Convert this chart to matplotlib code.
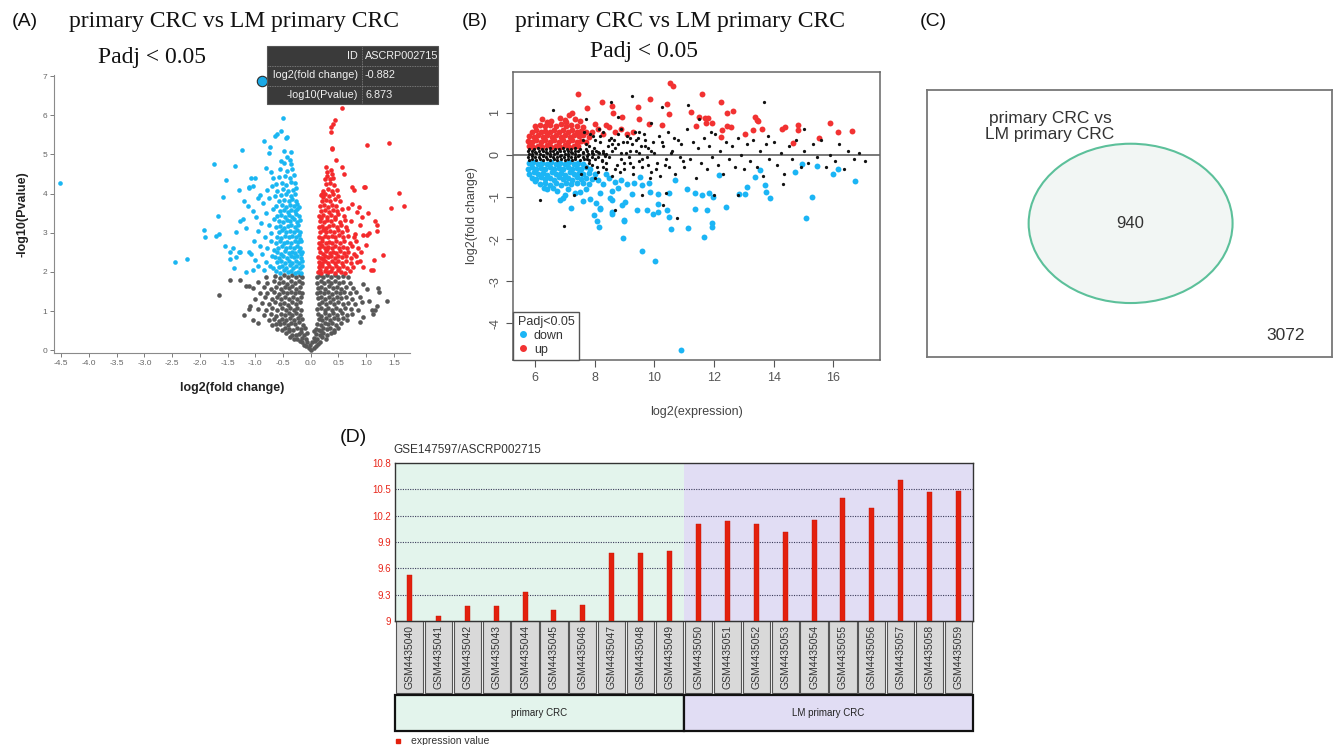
import matplotlib
matplotlib.use("Agg")
import matplotlib.pyplot as plt
from matplotlib.patches import Rectangle, Ellipse
from matplotlib.lines import Line2D
import matplotlib.transforms as mtransforms

plt.rcParams["axes.unicode_minus"] = False

# ---------------- DATA ----------------
# (A) volcano plot: (log2 fold change, -log10 Pvalue)
volcano_down = [
    (-4.53, 4.28), (-2.45, 2.26), (-2.24, 2.32), (-1.93, 3.06), (-1.90, 2.90), (-1.74, 4.76), (-1.68, 3.44),
    (-1.71, 2.92), (-1.65, 2.96), (-1.58, 3.92), (-1.52, 4.36), (-1.37, 4.70), (-1.24, 5.12), (-1.30, 4.10),
    (-1.21, 3.82), (-1.14, 3.68), (-1.22, 3.36), (-1.28, 3.31), (-1.17, 3.11), (-1.34, 3.01), (-1.54, 2.67),
    (-1.40, 2.60), (-1.46, 2.50), (-1.30, 2.52), (-1.27, 2.50), (-1.34, 2.39), (-1.45, 2.32), (-1.39, 2.09),
    (-1.16, 2.00), (-1.12, 2.52), (-1.11, 4.16), (-0.50, 5.92), (-0.84, 5.34), (-0.73, 5.18), (-0.65, 5.46),
    (-0.61, 5.52), (-0.53, 5.59), (-0.45, 5.43), (-0.42, 5.45), (-0.75, 5.03), (-0.49, 5.10), (-0.54, 4.83),
    (-0.43, 4.93), (-0.38, 4.86), (-0.35, 5.07), (-0.80, 4.65), (-1.07, 4.41), (-1.01, 4.41), (-1.12, 4.15),
    (-1.04, 4.19), (-0.91, 3.97), (-0.72, 4.56),
    (-1.05, 3.55), (-0.98, 3.40), (-0.95, 3.05), (-1.02, 2.80), (-0.92, 2.65), (-0.88, 2.45), (-1.00, 2.30),
    (-0.95, 2.15), (-0.85, 2.05), (-0.80, 2.25), (-0.78, 2.60), (-0.83, 2.90), (-0.76, 3.20), (-0.80, 3.50),
    (-0.86, 3.75), (-0.75, 3.90), (-0.70, 4.20), (-0.68, 4.40), (-0.78, 4.10), (-0.95, 3.90), (-1.08, 2.45),
    (-1.05, 2.05), (-0.90, 3.25), (-0.72, 2.80), (-0.70, 2.40), (-0.74, 2.15), (-0.68, 3.60), (-0.71, 3.00),
    (-0.62, 2.02), (-0.55, 1.98), (-0.48, 2.05), (-0.41, 1.99), (-0.35, 2.03), (-0.29, 1.97), (-0.23, 2.01),
    (-0.17, 1.98), (-0.58, 2.12), (-0.51, 2.15), (-0.44, 2.10), (-0.38, 2.17), (-0.32, 2.11), (-0.26, 2.14),
    (-0.20, 2.09), (-0.15, 2.16), (-0.60, 2.25), (-0.53, 2.28), (-0.46, 2.22), (-0.39, 2.27), (-0.33, 2.24),
    (-0.27, 2.29), (-0.21, 2.23), (-0.16, 2.27),
    (-0.64, 2.38), (-0.57, 2.35), (-0.50, 2.40), (-0.43, 2.36), (-0.36, 2.41), (-0.30, 2.37), (-0.24, 2.42),
    (-0.18, 2.35), (-0.61, 2.50), (-0.54, 2.47), (-0.47, 2.53), (-0.40, 2.49), (-0.34, 2.52), (-0.28, 2.48),
    (-0.22, 2.54), (-0.16, 2.50), (-0.59, 2.62), (-0.52, 2.65), (-0.45, 2.60), (-0.38, 2.64), (-0.31, 2.61),
    (-0.25, 2.66), (-0.19, 2.62),
    (-0.63, 2.75), (-0.56, 2.78), (-0.49, 2.73), (-0.42, 2.77), (-0.35, 2.74), (-0.29, 2.79), (-0.23, 2.76),
    (-0.17, 2.80), (-0.60, 2.90), (-0.53, 2.87), (-0.46, 2.92), (-0.39, 2.88), (-0.33, 2.93), (-0.27, 2.89),
    (-0.21, 2.94), (-0.58, 3.03), (-0.51, 3.06), (-0.44, 3.01), (-0.37, 3.05), (-0.31, 3.02), (-0.25, 3.07),
    (-0.19, 3.03),
    (-0.62, 3.15), (-0.55, 3.18), (-0.48, 3.13), (-0.41, 3.17), (-0.35, 3.20), (-0.29, 3.14), (-0.23, 3.19),
    (-0.57, 3.30), (-0.50, 3.27), (-0.43, 3.33), (-0.37, 3.29), (-0.31, 3.34), (-0.25, 3.28), (-0.20, 3.32),
    (-0.60, 3.43), (-0.53, 3.46), (-0.46, 3.41), (-0.39, 3.45), (-0.33, 3.40), (-0.27, 3.47), (-0.22, 3.42),
    (-0.55, 3.56), (-0.48, 3.58), (-0.41, 3.54), (-0.35, 3.59), (-0.29, 3.55), (-0.24, 3.60),
    (-0.62, 3.68), (-0.52, 3.70), (-0.44, 3.66), (-0.37, 3.72), (-0.30, 3.68), (-0.25, 3.74), (-0.58, 3.82),
    (-0.49, 3.85), (-0.40, 3.80), (-0.33, 3.86), (-0.27, 3.82), (-0.54, 3.96), (-0.45, 3.98), (-0.36, 3.93),
    (-0.29, 3.99), (-0.60, 4.08), (-0.50, 4.12), (-0.41, 4.06), (-0.32, 4.10), (-0.26, 4.14),
    (-0.63, 4.25), (-0.52, 4.28), (-0.44, 4.22), (-0.35, 4.30), (-0.28, 4.26), (-0.57, 4.42), (-0.47, 4.45),
    (-0.38, 4.40), (-0.30, 4.47), (-0.55, 4.62), (-0.42, 4.58), (-0.33, 4.64), (-0.48, 4.78), (-0.36, 4.75),
    (-0.66, 2.55), (-0.66, 3.35), (-0.64, 3.95), (-0.20, 2.85), (-0.18, 2.45), (-0.22, 3.65), (-0.68, 2.10),
]
volcano_up = [
    (0.13, 2.00), (0.19, 1.97), (0.25, 2.03), (0.31, 1.99), (0.37, 2.02), (0.43, 1.98), (0.49, 2.04),
    (0.55, 2.00), (0.62, 1.98), (0.70, 2.03), (0.15, 2.12), (0.21, 2.15), (0.27, 2.10), (0.33, 2.16),
    (0.39, 2.11), (0.45, 2.14), (0.51, 2.09), (0.58, 2.15), (0.66, 2.11), (0.76, 2.13), (0.14, 2.26),
    (0.20, 2.23), (0.26, 2.28), (0.32, 2.24), (0.38, 2.27), (0.44, 2.22), (0.50, 2.28), (0.57, 2.24),
    (0.64, 2.27), (0.73, 2.22), (0.84, 2.26),
    (0.13, 2.38), (0.19, 2.35), (0.25, 2.41), (0.31, 2.37), (0.37, 2.40), (0.43, 2.36), (0.49, 2.41),
    (0.56, 2.37), (0.63, 2.40), (0.72, 2.36), (0.82, 2.42), (0.16, 2.50), (0.22, 2.47), (0.28, 2.53),
    (0.34, 2.49), (0.40, 2.52), (0.46, 2.48), (0.53, 2.54), (0.60, 2.49), (0.68, 2.52), (0.78, 2.47),
    (0.90, 2.50), (0.14, 2.62), (0.20, 2.65), (0.26, 2.60), (0.32, 2.64), (0.38, 2.61), (0.44, 2.66),
    (0.51, 2.60), (0.58, 2.64), (0.66, 2.61), (0.75, 2.66), (0.86, 2.62),
    (0.15, 2.75), (0.21, 2.78), (0.27, 2.73), (0.33, 2.77), (0.39, 2.74), (0.45, 2.79), (0.52, 2.75),
    (0.60, 2.78), (0.70, 2.74), (0.82, 2.79), (0.14, 2.90), (0.20, 2.87), (0.26, 2.92), (0.32, 2.88),
    (0.38, 2.93), (0.44, 2.89), (0.51, 2.94), (0.58, 2.88), (0.67, 2.92), (0.78, 2.88), (0.16, 3.03),
    (0.22, 3.06), (0.28, 3.01), (0.35, 3.05), (0.42, 3.02), (0.49, 3.07), (0.57, 3.03), (0.66, 3.06),
    (0.14, 3.15), (0.20, 3.18), (0.27, 3.13), (0.33, 3.17), (0.40, 3.20), (0.47, 3.14), (0.55, 3.19),
    (0.64, 3.15), (0.17, 3.30), (0.24, 3.27), (0.30, 3.33), (0.37, 3.29), (0.44, 3.34), (0.52, 3.28),
    (0.61, 3.32), (0.72, 3.30), (0.15, 3.43), (0.22, 3.46), (0.29, 3.41), (0.36, 3.45), (0.43, 3.40),
    (0.50, 3.47), (0.60, 3.42), (0.19, 3.56), (0.26, 3.58), (0.33, 3.54), (0.40, 3.59), (0.47, 3.55),
    (0.56, 3.60),
    (0.16, 3.68), (0.24, 3.70), (0.31, 3.66), (0.38, 3.72), (0.46, 3.68), (0.20, 3.82), (0.28, 3.85),
    (0.35, 3.80), (0.43, 3.86), (0.53, 3.82), (0.18, 3.96), (0.26, 3.98), (0.33, 3.93), (0.41, 3.99),
    (0.50, 3.95), (0.23, 4.08), (0.31, 4.12), (0.38, 4.06), (0.47, 4.10), (0.27, 4.25), (0.35, 4.28),
    (0.42, 4.22), (0.30, 4.45), (0.38, 4.50),
    (0.57, 6.19), (0.43, 5.89), (0.40, 5.78), (0.36, 5.70), (0.36, 5.58), (0.38, 5.16), (0.39, 5.13),
    (1.02, 5.24), (1.41, 5.30), (0.45, 4.86), (0.56, 4.67), (0.27, 4.67), (0.30, 4.56), (0.36, 4.60),
    (0.40, 4.41), (0.34, 4.37), (0.25, 4.38), (0.74, 4.16), (0.78, 4.09), (0.96, 4.17), (1.60, 4.01),
    (1.69, 3.68), (1.44, 3.64), (0.20, 4.00), (0.22, 3.92), (0.67, 3.63), (0.75, 3.74), (0.87, 3.66),
    (0.84, 3.52), (1.04, 3.51), (1.20, 3.21), (1.19, 3.05), (1.01, 2.95), (0.95, 2.95), (0.80, 2.98),
    (1.31, 2.43), (1.12, 2.05), (0.95, 2.12), (0.89, 2.29), (0.98, 4.17), (1.14, 2.30), (1.08, 2.06),
    (1.16, 3.30), (0.92, 3.40), (1.00, 2.70), (0.88, 3.20), (1.05, 3.00), (0.60, 4.50),
    (0.17, 2.05), (0.23, 2.32), (0.18, 2.70), (0.24, 3.10), (0.19, 3.37), (0.17, 2.18), (0.29, 2.58),
]
volcano_ns = [
    (0.00, 0.01), (-0.04, 0.05), (0.05, 0.06), (-0.08, 0.10), (0.09, 0.11), (-0.12, 0.14), (0.13, 0.16),
    (-0.02, 0.13), (0.03, 0.20), (-0.16, 0.20), (0.17, 0.22), (-0.07, 0.22), (0.08, 0.24), (-0.20, 0.24),
    (-0.30, 0.28), (-0.24, 0.30), (-0.15, 0.32), (-0.09, 0.30), (0.06, 0.31), (0.12, 0.29), (0.20, 0.33),
    (0.27, 0.30), (-0.38, 0.35), (-0.33, 0.40), (-0.27, 0.38), (-0.21, 0.42), (-0.13, 0.40), (0.10, 0.41),
    (0.16, 0.38), (0.23, 0.43), (0.30, 0.39), (0.36, 0.44), (-0.45, 0.45), (-0.40, 0.48), (-0.18, 0.47),
    (-0.06, 0.45), (0.05, 0.48), (0.19, 0.49), (0.42, 0.47),
    (-0.60, 0.55), (-0.52, 0.52), (-0.46, 0.58), (-0.39, 0.55), (-0.32, 0.53), (-0.25, 0.57), (-0.18, 0.54),
    (-0.10, 0.58), (0.09, 0.55), (0.15, 0.52), (0.22, 0.58), (0.29, 0.54), (0.35, 0.57), (0.42, 0.53),
    (0.50, 0.58), (-0.70, 0.65), (-0.63, 0.68), (-0.55, 0.66), (-0.48, 0.70), (-0.41, 0.64), (-0.35, 0.69),
    (-0.28, 0.66), (-0.21, 0.71), (-0.14, 0.65), (0.12, 0.68), (0.18, 0.64), (0.25, 0.70), (0.32, 0.66),
    (0.39, 0.69), (0.46, 0.65), (0.55, 0.70), (-0.75, 0.78), (-0.66, 0.80), (-0.58, 0.76), (-0.51, 0.81),
    (-0.44, 0.77), (-0.37, 0.82), (-0.30, 0.78), (-0.23, 0.83), (-0.16, 0.79), (0.14, 0.80), (0.21, 0.77),
    (0.28, 0.82), (0.35, 0.78), (0.42, 0.83), (0.50, 0.79), (0.58, 0.82), (0.65, 0.77), (-0.85, 0.90),
    (-0.72, 0.92), (-0.62, 0.88), (-0.54, 0.93), (-0.47, 0.89), (-0.40, 0.95), (-0.33, 0.91), (-0.26, 0.96),
    (-0.19, 0.90), (0.13, 0.92), (0.19, 0.88), (0.26, 0.94), (0.33, 0.90), (0.40, 0.95), (0.48, 0.91),
    (0.56, 0.95), (0.66, 0.90), (0.75, 0.93),
    (-1.10, 1.12), (-0.95, 1.05), (-0.80, 1.02), (-0.70, 1.08), (-0.60, 1.03), (-0.52, 1.07), (-0.45, 1.02),
    (-0.38, 1.08), (-0.31, 1.04), (-0.24, 1.09), (-0.17, 1.03), (0.12, 1.05), (0.18, 1.09), (0.25, 1.03),
    (0.31, 1.08), (0.38, 1.02), (0.45, 1.07), (0.53, 1.03), (0.62, 1.08), (0.72, 1.05), (0.85, 1.03),
    (1.10, 1.02), (-0.88, 1.20), (-0.75, 1.18), (-0.65, 1.22), (-0.56, 1.17), (-0.48, 1.21), (-0.41, 1.16),
    (-0.34, 1.22), (-0.27, 1.18), (-0.20, 1.23), (0.14, 1.19), (0.21, 1.22), (0.28, 1.17), (0.35, 1.23),
    (0.42, 1.18), (0.50, 1.22), (0.58, 1.17), (0.68, 1.21), (0.80, 1.18), (0.93, 1.24), (-1.00, 1.32),
    (-0.82, 1.35), (-0.70, 1.31), (-0.61, 1.36), (-0.53, 1.32), (-0.46, 1.37), (-0.39, 1.31), (-0.32, 1.36),
    (-0.25, 1.32), (-0.18, 1.37), (0.13, 1.33), (0.19, 1.37), (0.26, 1.31), (0.33, 1.36), (0.40, 1.32),
    (0.47, 1.37), (0.55, 1.33), (0.64, 1.36), (0.74, 1.31), (0.88, 1.35), (-0.92, 1.47), (-0.78, 1.45),
    (-0.66, 1.48), (-0.57, 1.44), (-0.50, 1.49), (-0.43, 1.45), (-0.36, 1.50), (-0.29, 1.46), (-0.22, 1.49),
    (-0.16, 1.45), (0.12, 1.46), (0.17, 1.50), (0.24, 1.45), (0.31, 1.49), (0.38, 1.44), (0.45, 1.48),
    (0.52, 1.45), (0.60, 1.49), (0.70, 1.46), (0.82, 1.49),
    (-1.05, 1.58), (-0.85, 1.62), (-0.72, 1.57), (-0.62, 1.61), (-0.54, 1.56), (-0.47, 1.62), (-0.40, 1.58),
    (-0.33, 1.63), (-0.26, 1.57), (-0.19, 1.62), (0.13, 1.58), (0.19, 1.62), (0.26, 1.57), (0.33, 1.63),
    (0.40, 1.58), (0.47, 1.62), (0.55, 1.57), (0.64, 1.61), (0.76, 1.58), (-0.95, 1.74), (-0.78, 1.72),
    (-0.67, 1.76), (-0.58, 1.71), (-0.50, 1.75), (-0.43, 1.70), (-0.36, 1.76), (-0.29, 1.72), (-0.22, 1.77),
    (-0.16, 1.71), (0.12, 1.73), (0.18, 1.77), (0.24, 1.71), (0.31, 1.76), (0.37, 1.72), (0.44, 1.77),
    (0.51, 1.71), (0.59, 1.75), (0.70, 1.72), (-0.80, 1.87), (-0.65, 1.90), (-0.56, 1.85), (-0.48, 1.91),
    (-0.41, 1.86), (-0.34, 1.92), (-0.27, 1.87), (-0.20, 1.91), (-0.15, 1.86), (0.12, 1.88), (0.17, 1.92),
    (0.23, 1.86), (0.29, 1.91), (0.36, 1.87), (0.43, 1.92), (0.50, 1.86), (0.58, 1.90), (0.68, 1.88),
    (-1.46, 1.80), (-1.28, 1.80), (-1.16, 1.65), (-1.12, 1.65), (-1.65, 1.42), (-1.12, 1.06), (-1.20, 0.90),
    (-1.05, 0.78), (-0.95, 0.70), (1.37, 1.26), (1.21, 1.60), (1.23, 1.50), (1.01, 1.56), (1.13, 0.92),
    (1.16, 1.03), (0.95, 0.85), (0.88, 0.72), (1.05, 1.25), (0.95, 1.70), (1.20, 1.12),
]
volcano_xticks = [-4.5, -4.0, -3.5, -3.0, -2.5, -2.0, -1.5, -1.0, -0.5, 0.0, 0.5, 1.0, 1.5]
volcano_xticklabels = ["-4.5", "-4.0", "-3.5", "-3.0", "-2.5", "-2.0", "-1.5", "-1.0", "-0.5", "0.0", "0.5", "1.0", "1.5"]
volcano_yticks = [0, 1, 2, 3, 4, 5, 6, 7]
hover_id = "ASCRP002715"
hover_fc = -0.882
hover_p = 6.873

# (B) MA plot: (log2 expression, log2 fold change)
ma_up = [
    (5.80, 0.20), (5.95, 0.18), (6.10, 0.21), (6.25, 0.19), (6.40, 0.22), (6.55, 0.18), (6.70, 0.21),
    (6.85, 0.19), (7.00, 0.22), (7.15, 0.18), (7.30, 0.21), (7.45, 0.20),
    (5.78, 0.33), (5.92, 0.30), (6.05, 0.34), (6.20, 0.31), (6.35, 0.35), (6.50, 0.30), (6.65, 0.34),
    (6.80, 0.31), (6.95, 0.35), (7.10, 0.30), (7.25, 0.34), (7.40, 0.31), (7.55, 0.33), (7.70, 0.30),
    (5.82, 0.45), (5.97, 0.42), (6.12, 0.46), (6.27, 0.43), (6.42, 0.47), (6.57, 0.42), (6.72, 0.46),
    (6.87, 0.43), (7.02, 0.47), (7.17, 0.42), (7.32, 0.46), (7.47, 0.44), (7.62, 0.46), (7.80, 0.43),
    (5.90, 0.55), (6.05, 0.58), (6.20, 0.54), (6.35, 0.57), (6.50, 0.55), (6.65, 0.59), (6.80, 0.54),
    (6.95, 0.58), (7.10, 0.55), (7.25, 0.59), (7.40, 0.54), (7.55, 0.57), (7.70, 0.55),
    (6.00, 0.68), (6.18, 0.70), (6.35, 0.67), (6.52, 0.71), (6.70, 0.68), (6.88, 0.72), (7.05, 0.67),
    (7.22, 0.70), (7.40, 0.68), (7.60, 0.66),
    (6.25, 0.84), (6.55, 0.80), (6.85, 0.88), (7.00, 0.82), (7.15, 0.95), (7.25, 0.98), (7.35, 0.85),
    (7.05, 0.78), (6.40, 0.78), (7.50, 0.80),
    (7.90, 0.55), (8.10, 0.62), (8.30, 0.50), (8.50, 0.65), (8.70, 0.55), (8.90, 0.60), (9.10, 0.50),
    (9.30, 0.55), (8.00, 0.72), (8.40, 0.70),
    (7.44, 1.44), (7.76, 1.10), (8.24, 1.25), (8.60, 1.15), (9.47, 1.14), (9.87, 1.33), (9.48, 0.84),
    (9.84, 0.74), (10.25, 0.71), (10.42, 1.21), (10.48, 0.96), (10.52, 1.71), (10.62, 1.63), (11.22, 1.02),
    (11.40, 0.67), (11.51, 0.89), (11.60, 1.45), (11.70, 0.87), (11.81, 0.88), (11.74, 0.75), (11.95, 0.75),
    (12.24, 1.24), (12.27, 0.59), (12.45, 1.00), (12.65, 1.04), (12.43, 0.68), (12.57, 0.66), (13.04, 0.49),
    (13.32, 0.59), (13.38, 0.90), (13.44, 0.83), (13.49, 0.79), (13.60, 0.60), (14.27, 0.60), (14.38, 0.65),
    (14.83, 0.71), (14.81, 0.59), (14.63, 0.29), (15.52, 0.39), (15.89, 0.76), (16.15, 0.55), (16.61, 0.57),
    (12.23, 0.41), (8.91, 0.90), (8.61, 0.98),
]
ma_down = [
    (5.80, -0.20), (5.95, -0.18), (6.10, -0.21), (6.25, -0.19), (6.40, -0.22), (6.55, -0.18), (6.70, -0.21),
    (6.85, -0.19), (7.00, -0.22), (7.15, -0.18), (7.30, -0.21), (7.45, -0.20), (7.60, -0.22),
    (5.78, -0.33), (5.92, -0.30), (6.05, -0.34), (6.20, -0.31), (6.35, -0.35), (6.50, -0.30), (6.65, -0.34),
    (6.80, -0.31), (6.95, -0.35), (7.10, -0.30), (7.25, -0.34), (7.40, -0.31), (7.55, -0.33), (7.70, -0.30),
    (7.85, -0.34),
    (5.82, -0.45), (5.97, -0.42), (6.12, -0.46), (6.27, -0.43), (6.42, -0.47), (6.57, -0.42), (6.72, -0.46),
    (6.87, -0.43), (7.02, -0.47), (7.17, -0.42), (7.32, -0.46), (7.47, -0.44), (7.62, -0.46), (7.80, -0.43),
    (8.00, -0.45),
    (5.90, -0.55), (6.05, -0.58), (6.20, -0.54), (6.35, -0.57), (6.50, -0.55), (6.65, -0.59), (6.80, -0.54),
    (6.95, -0.58), (7.10, -0.55), (7.25, -0.59), (7.40, -0.54), (7.55, -0.57), (7.70, -0.55), (7.90, -0.58),
    (6.01, -0.62), (6.18, -0.70), (6.35, -0.67), (6.52, -0.71), (6.70, -0.68), (6.88, -0.72), (7.05, -0.67),
    (7.22, -0.70), (7.40, -0.68), (7.60, -0.66), (7.80, -0.70),
    (6.40, -0.82), (6.60, -0.80), (6.75, -0.85), (6.96, -1.03), (6.85, -1.07), (7.20, -1.26), (7.10, -0.82),
    (7.35, -0.90), (7.60, -1.10), (7.85, -1.04), (8.05, -1.14), (8.20, -1.26), (7.99, -1.43), (8.08, -1.57),
    (8.16, -1.72), (8.52, -1.02), (8.58, -1.35), (8.99, -1.55), (9.02, -1.11), (7.50, -0.88), (7.00, -0.95),
    (6.30, -0.80), (7.70, -0.82),
    (8.10, -0.60), (8.30, -0.70), (8.50, -0.55), (8.70, -0.65), (8.90, -0.60), (9.10, -0.70), (8.20, -0.90),
    (8.60, -0.85), (8.40, -0.45), (8.80, -0.80),
    (9.58, -2.29), (10.04, -2.51), (10.90, -4.63), (8.97, -1.98), (9.00, -1.58), (8.19, -1.28), (8.58, -1.40),
    (8.58, -1.08), (8.91, -1.20), (9.42, -1.32), (9.75, -1.32), (9.97, -1.40), (10.14, -1.36), (10.14, -1.16),
    (10.44, -1.32), (10.50, -1.48), (10.55, -1.77), (11.13, -1.74), (11.68, -1.95), (11.94, -1.63),
    (11.95, -1.71), (11.38, -1.29), (11.76, -1.32), (12.40, -1.24), (11.96, -1.00), (12.16, -0.48),
    (11.85, -0.90), (11.60, -0.96), (11.37, -0.90), (11.09, -0.82), (10.70, -0.59), (10.48, -0.90),
    (10.14, -0.92), (9.86, -0.88), (9.83, -0.68), (9.53, -0.52), (9.58, -0.72), (9.31, -0.68), (9.25, -0.92),
    (12.85, -0.92), (13.05, -0.94), (13.12, -0.76), (13.38, -0.52), (13.55, -0.37), (13.71, -0.71),
    (13.73, -0.88), (13.88, -1.02), (14.72, -0.42), (14.94, -0.22), (15.27, -1.00), (15.09, -1.49),
    (15.44, -0.26), (15.97, -0.46), (16.17, -0.33), (16.73, -0.62),
]
ma_ns = [
    (5.80, -0.12), (5.92, -0.10), (6.04, -0.13), (6.16, -0.11), (6.28, -0.12), (6.40, -0.10), (6.52, -0.13),
    (6.64, -0.11), (6.76, -0.12), (6.88, -0.10), (7.00, -0.13), (7.12, -0.11), (7.24, -0.12), (7.36, -0.10),
    (7.50, -0.13), (7.65, -0.11), (7.80, -0.12), (8.00, -0.10), (8.25, -0.13),
    (5.78, -0.05), (5.90, -0.04), (6.02, -0.06), (6.14, -0.05), (6.26, -0.03), (6.38, -0.06), (6.50, -0.04),
    (6.62, -0.05), (6.74, -0.06), (6.86, -0.03), (6.98, -0.05), (7.10, -0.04), (7.22, -0.06), (7.34, -0.05),
    (7.46, -0.03), (7.60, -0.06), (7.75, -0.04), (7.90, -0.05), (8.10, -0.06), (8.35, -0.04),
    (5.80, 0.02), (5.92, 0.01), (6.04, 0.03), (6.16, 0.02), (6.28, 0.00), (6.40, 0.03), (6.52, 0.01),
    (6.64, 0.02), (6.76, 0.03), (6.88, 0.00), (7.00, 0.02), (7.12, 0.01), (7.24, 0.03), (7.36, 0.02),
    (7.48, 0.00), (7.62, 0.03), (7.78, 0.01), (7.95, 0.02), (8.15, 0.03), (8.40, 0.01),
    (5.78, 0.08), (5.90, 0.09), (6.02, 0.07), (6.14, 0.08), (6.26, 0.10), (6.38, 0.07), (6.50, 0.09),
    (6.62, 0.08), (6.74, 0.07), (6.86, 0.10), (6.98, 0.08), (7.10, 0.09), (7.22, 0.07), (7.34, 0.08),
    (7.46, 0.10), (7.60, 0.07), (7.75, 0.09), (7.90, 0.08), (8.10, 0.07), (8.30, 0.09),
    (5.82, 0.14), (5.96, 0.13), (6.10, 0.15), (6.24, 0.14), (6.38, 0.13), (6.52, 0.15), (6.66, 0.14),
    (6.80, 0.13), (6.94, 0.15), (7.08, 0.14), (7.22, 0.13), (7.36, 0.15), (7.52, 0.14), (7.70, 0.13),
    (7.6, 0.35), (7.7, -0.3), (7.8, 0.2), (7.9, -0.25), (7.95, 0.45), (8.05, 0.1), (8.1, -0.4), (8.2, 0.3),
    (8.25, -0.15), (8.3, 0.55), (8.4, -0.35), (8.45, 0.2), (8.5, -0.05), (8.55, 0.4), (8.6, -0.5),
    (8.7, 0.15), (8.75, -0.25), (8.8, 0.5), (8.9, -0.1), (8.95, 0.3), (9.0, -0.35), (9.05, 0.05),
    (9.1, 0.45), (9.2, -0.2), (9.25, 0.25), (9.3, -0.45), (9.4, 0.1), (9.45, 0.4), (9.5, -0.15),
    (9.55, 0.2), (9.6, -0.3), (9.7, 0.35), (9.75, -0.05), (9.8, 0.15), (9.9, -0.4), (9.95, 0.3),
    (10.0, 0.05), (10.1, -0.2), (10.15, 0.45), (10.2, -0.5), (10.3, 0.2), (10.4, -0.1), (10.45, 0.55),
    (10.5, -0.3), (10.6, 0.1), (10.7, -0.45), (10.8, 0.35), (10.85, -0.05), (10.9, 0.25), (11.0, -0.3),
    (11.1, 0.6), (11.2, -0.1), (11.3, 0.3), (11.4, -0.55), (11.45, 0.15), (11.55, -0.2), (11.65, 0.4),
    (11.75, -0.35), (11.85, 0.2), (11.95, -0.05), (12.05, 0.5), (12.15, -0.25), (12.2, 0.1), (12.3, -0.45),
    (12.4, 0.3), (12.5, -0.1), (12.6, 0.2), (12.7, -0.3), (12.8, 0.4), (12.9, 0.0), (13.0, -0.35),
    (13.1, 0.25), (13.2, -0.15), (13.3, 0.35), (13.45, -0.3), (13.55, 0.1), (13.65, -0.5), (13.75, 0.25),
    (13.85, -0.1), (14.0, 0.3), (14.1, -0.25), (14.25, 0.05), (14.35, -0.45), (14.5, 0.2), (14.6, -0.1),
    (14.75, 0.35), (14.9, -0.3), (15.0, 0.1), (15.15, -0.2), (15.3, 0.25), (15.45, -0.05), (15.6, 0.35),
    (15.75, -0.3), (15.9, 0.0), (16.05, -0.15), (16.2, 0.25), (16.35, -0.35), (16.5, 0.1), (16.7, -0.1),
    (16.85, 0.05), (17.06, -0.15),
    (7.55, -0.45), (7.65, 0.55), (7.75, -0.1), (7.85, 0.5), (7.9, 0.05), (8.0, -0.55), (8.15, 0.6),
    (8.35, 0.0), (8.65, 0.35), (8.85, -0.4), (9.15, -0.05), (9.35, 0.55), (9.65, 0.5), (9.85, -0.55),
    (8.0, 0.35), (8.3, -0.3), (8.6, 0.25), (8.9, 0.6), (9.2, 0.4), (9.5, 0.55),
    (7.72, 0.25), (7.82, -0.2), (7.98, 0.15), (8.08, -0.3), (8.18, 0.45), (8.28, 0.05), (8.38, -0.2),
    (8.48, 0.35), (8.58, 0.1), (8.68, -0.35), (8.78, 0.25), (8.88, 0.05), (8.98, -0.2), (9.08, 0.3),
    (9.18, 0.1), (9.28, -0.3), (9.38, 0.35), (9.48, 0.05), (9.58, -0.1), (9.68, 0.2), (9.78, -0.25),
    (9.88, 0.1), (10.05, -0.35), (10.25, 0.3), (10.35, -0.25), (10.55, 0.05), (10.65, 0.4), (10.95, -0.15),
    (9.25, 1.40), (13.66, 1.26), (8.56, 1.24), (6.60, 1.06), (6.98, -1.70), (6.18, -1.08), (10.75, -1.49),
    (10.25, 1.13), (11.14, 1.18), (8.7, -1.3), (9.6, -0.95), (10.4, -0.9), (11.5, 0.85), (12.0, -0.95),
    (12.8, -0.95), (7.3, -0.95), (7.7, 0.85), (8.8, 0.9), (9.9, 0.75), (11.9, 0.55), (13.8, 0.45),
    (15.0, 0.6), (14.3, -0.7), (10.3, -1.2),
]
ma_xticks = [6, 8, 10, 12, 14, 16]
ma_yticks = [-4, -3, -2, -1, 0, 1]

# (C) Venn
venn_label = "primary CRC vs\nLM primary CRC"
venn_inside = 940
venn_outside = 3072

# (D) expression bars
dataset_title = "GSE147597/ASCRP002715"
samples = ["GSM4435040", "GSM4435041", "GSM4435042", "GSM4435043", "GSM4435044",
           "GSM4435045", "GSM4435046", "GSM4435047", "GSM4435048", "GSM4435049",
           "GSM4435050", "GSM4435051", "GSM4435052", "GSM4435053", "GSM4435054",
           "GSM4435055", "GSM4435056", "GSM4435057", "GSM4435058", "GSM4435059"]
expression = [9.52, 9.06, 9.17, 9.17, 9.33, 9.13, 9.18, 9.78, 9.78, 9.80,
              10.11, 10.14, 10.10, 10.01, 10.15, 10.40, 10.29, 10.61, 10.47, 10.48]
groups = ["primary CRC", "LM primary CRC"]
group_sizes = [10, 10]
d_yticks = [9, 9.3, 9.6, 9.9, 10.2, 10.5, 10.8]
d_yticklabels = ["9", "9.3", "9.6", "9.9", "10.2", "10.5", "10.8"]

# ---------------- FIGURE ----------------
W, H = 1333, 745
fig = plt.figure(figsize=(W / 100, H / 100), dpi=100)
fig.patch.set_facecolor("white")

SANS = ["Liberation Sans", "DejaVu Sans"]
SERIF = ["Liberation Serif", "DejaVu Serif"]


def fx(px):
    return px / W


def fy(py):
    return 1 - py / H


def ftext(px, py, s, **kw):
    fig.text(fx(px), fy(py), s, transform=fig.transFigure, **kw)


def xs(pts):
    return [p[0] for p in pts]


def ys(pts):
    return [p[1] for p in pts]


# ---- panel labels & titles ----
ftext(12, 22, "(A)", family=SANS, fontsize=14, va="center", ha="left", color="#111")
ftext(234, 22, "primary CRC vs LM primary CRC", family=SERIF, fontsize=17, va="center", ha="center", color="#111")
ftext(152, 57, "Padj < 0.05", family=SERIF, fontsize=17, va="center", ha="center", color="#111")
ftext(462, 22, "(B)", family=SANS, fontsize=14, va="center", ha="left", color="#111")
ftext(680, 22, "primary CRC vs LM primary CRC", family=SERIF, fontsize=17, va="center", ha="center", color="#111")
ftext(644, 51, "Padj < 0.05", family=SERIF, fontsize=17, va="center", ha="center", color="#111")
ftext(920, 22, "(C)", family=SANS, fontsize=14, va="center", ha="left", color="#111")
ftext(340, 437, "(D)", family=SANS, fontsize=14, va="center", ha="left", color="#111")

# ---- (A) volcano ----
axA = fig.add_axes([fx(54), fy(353), fx(410) - fx(54), fy(75) - fy(353)])
axA.scatter(xs(volcano_ns), ys(volcano_ns), s=11, c="#575757", linewidths=0)
axA.scatter(xs(volcano_down), ys(volcano_down), s=11, c="#1ab6f2", linewidths=0)
axA.scatter(xs(volcano_up), ys(volcano_up), s=11, c="#f42a2c", linewidths=0)
axA.plot([hover_fc], [hover_p], "o", ms=7.5, mfc="#1aa9e6", mec="#2b2b2b", mew=0.8, clip_on=False, zorder=5)
axA.set_xlim(-4.63, 1.79)
axA.set_ylim(-0.07, 7.03)
axA.set_xticks(volcano_xticks)
axA.set_xticklabels(volcano_xticklabels)
axA.set_yticks(volcano_yticks)
for sp in ["top", "right"]:
    axA.spines[sp].set_visible(False)
for sp in ["left", "bottom"]:
    axA.spines[sp].set_color("#8a8a8a")
    axA.spines[sp].set_linewidth(0.8)
axA.tick_params(labelsize=6, colors="#666", length=3, width=0.6, pad=2)
for lab in axA.get_xticklabels() + axA.get_yticklabels():
    lab.set_family(SANS)
axA.set_xlabel("log2(fold change)", family=SANS, fontsize=9, fontweight="bold", color="#222", labelpad=11)
axA.set_ylabel("-log10(Pvalue)", family=SANS, fontsize=9, fontweight="bold", color="#222", labelpad=10)

# tooltip
tip = Rectangle((fx(267), fy(104)), fx(438) - fx(267), fy(46) - fy(104), transform=fig.transFigure,
                facecolor="#3a3a3a", edgecolor="#555", lw=0.8, zorder=10)
fig.patches.append(tip)
for ry in [65.5, 85.5]:
    fig.add_artist(Line2D([fx(268), fx(437)], [fy(ry), fy(ry)], transform=fig.transFigure,
                          color="#8a8a8a", lw=0.6, ls=(0, (1, 1)), zorder=11))
fig.add_artist(Line2D([fx(361.5), fx(361.5)], [fy(47), fy(103)], transform=fig.transFigure,
                      color="#8a8a8a", lw=0.6, ls=(0, (1, 1)), zorder=11))
rows = [("ID", hover_id), ("log2(fold change)", f"{hover_fc:.3f}"), ("-log10(Pvalue)", f"{hover_p:.3f}")]
for k, (a, b) in enumerate(rows):
    yy = 56 + 19.5 * k
    ftext(358, yy, a, family=SANS, fontsize=7.8, color="#f0f0f0", ha="right", va="center", zorder=12)
    ftext(365, yy, b, family=SANS, fontsize=7.8, color="#f0f0f0", ha="left", va="center", zorder=12)

# ---- (B) MA plot ----
axB = fig.add_axes([fx(513.3), fy(360), fx(880) - fx(513.3), fy(71.7) - fy(360)])
axB.axhline(0, color="#555", lw=1.1, zorder=1)
axB.scatter(xs(ma_up), ys(ma_up), s=18, c="#f23232", linewidths=0, zorder=2)
axB.scatter(xs(ma_down), ys(ma_down), s=18, c="#1bb5f5", linewidths=0, zorder=2)
axB.scatter(xs(ma_ns), ys(ma_ns), s=5.5, c="#111", linewidths=0, zorder=3)
axB.set_xlim(5.28, 17.56)
axB.set_ylim(-4.87, 1.97)
axB.set_xticks(ma_xticks)
axB.set_yticks(ma_yticks)
for sp in axB.spines.values():
    sp.set_color("#666")
    sp.set_linewidth(1.1)
axB.tick_params(labelsize=9, colors="#555", length=5, width=0.8)
axB.tick_params(axis="y", labelrotation=90)
for lab in axB.get_yticklabels():
    lab.set_va("center")
for lab in axB.get_xticklabels() + axB.get_yticklabels():
    lab.set_family(SANS)
axB.set_xlabel("log2(expression)", family=SANS, fontsize=9, color="#444", labelpad=16)
axB.set_ylabel("log2(fold change)", family=SANS, fontsize=9, color="#444", labelpad=8)
handles = [Line2D([], [], marker="o", ls="", ms=4, color="#1bb5f5"),
           Line2D([], [], marker="o", ls="", ms=4, color="#f23232")]
leg = axB.legend(handles, ["down", "up"], title="Padj<0.05", loc="lower left", borderaxespad=0,
                 fancybox=False, edgecolor="#555", framealpha=1, title_fontsize=9,
                 alignment="left", handlelength=0.8, handletextpad=0.5, borderpad=0.35, labelspacing=0.15,
                 prop={"family": SANS, "size": 9})
leg.get_frame().set_linewidth(1.0)
leg.get_title().set_family(SANS)
leg.get_title().set_color("#333")
for t in leg.get_texts():
    t.set_color("#333")

# ---- (C) Venn ----
axC = fig.add_axes([fx(927.3), fy(357.3), fx(1332.3) - fx(927.3), fy(90) - fy(357.3)])
axC.set_xlim(0, 1)
axC.set_ylim(0, 1)
axC.set_xticks([])
axC.set_yticks([])
for sp in axC.spines.values():
    sp.set_color("#777")
    sp.set_linewidth(1.3)
axC.add_patch(Ellipse((0.502, 0.501), 0.5035, 0.596, facecolor="#f2f6f4", edgecolor="#5cc09a", lw=1.5))
axC.text(0.303, 0.862, venn_label, family=SANS, fontsize=12.5, color="#333", ha="center", va="center",
         linespacing=1.1)
axC.text(0.502, 0.50, str(venn_inside), family=SANS, fontsize=12, color="#333", ha="center", va="center")
axC.text(0.885, 0.083, str(venn_outside), family=SANS, fontsize=12.5, color="#333", ha="center", va="center")

# ---- (D) bars ----
n = len(samples)
axD = fig.add_axes([fx(395), fy(621), fx(973) - fx(395), fy(463) - fy(621)])
axD.set_xlim(-0.5, n - 0.5)
axD.set_ylim(d_yticks[0], d_yticks[-1])
bg_cols = ["#e3f4ec", "#e1ddf4"]
start = 0
group_spans = []
for g, size, col in zip(groups, group_sizes, bg_cols):
    axD.axvspan(start - 0.5, start + size - 0.5, color=col, lw=0, zorder=0)
    group_spans.append((start - 0.5, start + size - 0.5, col, g))
    start += size
for yv in d_yticks[1:-1]:
    axD.axhline(yv, color="#3a3a5a", lw=0.8, ls=(0, (1, 1.2)), zorder=1)
base = d_yticks[0]
axD.bar(range(n), [v - base for v in expression], bottom=base, width=0.17, color="#e3200d",
        edgecolor="#c41505", lw=0.3, zorder=3)
axD.set_yticks(d_yticks)
axD.set_yticklabels(d_yticklabels)
axD.set_xticks([])
axD.tick_params(axis="y", length=0, labelsize=7, labelcolor="#e8261a", pad=3)
for lab in axD.get_yticklabels():
    lab.set_family(SANS)
for sp in axD.spines.values():
    sp.set_color("#333")
    sp.set_linewidth(1.0)

trD = mtransforms.blended_transform_factory(axD.transData, axD.transAxes)
h_px = 621 - 463
box_top = 0.0
box_bot = -(692.5 - 621) / h_px
for i, s in enumerate(samples):
    axD.add_patch(Rectangle((i - 0.47, box_bot), 0.94, box_top - box_bot, transform=trD,
                            facecolor="#d9d9d9", edgecolor="#555", lw=0.8, clip_on=False, zorder=2))
    axD.text(i, (box_top + box_bot) / 2, s, transform=trD, rotation=90, ha="center", va="center",
             family=SANS, fontsize=7.5, color="#333", clip_on=False)
g_top = -(694.5 - 621) / h_px
g_bot = -(731 - 621) / h_px
for x0, x1, col, g in group_spans:
    axD.add_patch(Rectangle((x0, g_bot), x1 - x0, g_top - g_bot, transform=trD,
                            facecolor=col, edgecolor="#111", lw=1.6, clip_on=False, zorder=2))
    axD.text((x0 + x1) / 2, (g_top + g_bot) / 2, g, transform=trD, ha="center", va="center",
             family=SANS, fontsize=7, color="#222", clip_on=False)
leg_y = -(740.5 - 621) / h_px
axD.plot([-0.38], [leg_y], "s", ms=3.2, color="#e3200d", transform=trD, clip_on=False)
axD.text(0.05, leg_y, "expression value", transform=trD, ha="left", va="center",
         family=SANS, fontsize=7.5, color="#333", clip_on=False)

ftext(393, 450, dataset_title, family=SANS, fontsize=8.5, color="#333", ha="left", va="center")

fig.savefig("out.png", dpi=100, facecolor="white")
